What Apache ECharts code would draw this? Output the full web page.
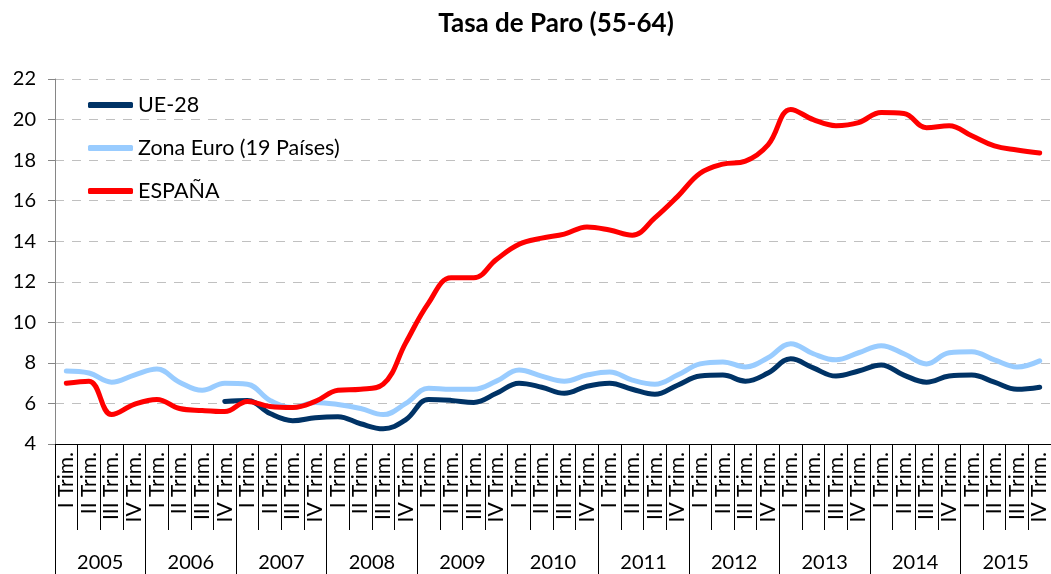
<!DOCTYPE html>
<html>
<head>
<meta charset="utf-8">
<title>Tasa de Paro (55-64)</title>
<script src="https://cdn.jsdelivr.net/npm/echarts@6/dist/echarts.min.js"></script>
<style>
  html, body {
    margin: 0;
    padding: 0;
    background: #fff;
  }
  #chart {
    width: 1051px;
    height: 574px;
  }
</style>
</head>
<body>
<div id="chart"></div>
<script>
// 数据
const years = ['2005', '2006', '2007', '2008', '2009', '2010', '2011', '2012', '2013', '2014', '2015']
const quarterNames = ['I Trim.', 'II Trim.', 'III Trim.', 'IV Trim.']
const yTicks = [4, 22, 2]
const ue28 = [null, null, null, null, null, null, null,
  6.1, 6.15, 5.5, 5.15, 5.3, 5.35, 5.0, 4.75, 5.2, 6.2, 6.15, 6.05, 6.5, 7.0, 6.8, 6.5,
  6.85, 7.0, 6.7, 6.45, 6.9, 7.35, 7.4, 7.1, 7.5, 8.2, 7.75, 7.35, 7.6, 7.9, 7.4, 7.05,
  7.35, 7.4, 7.05, 6.7, 6.8]
const zonaEuro = [7.6, 7.5, 7.05, 7.4, 7.7, 7.05, 6.65, 7.0, 6.95, 6.15, 5.8, 6.05, 5.95,
  5.75, 5.45, 6.0, 6.75, 6.7, 6.7, 7.1, 7.65, 7.35, 7.1, 7.4, 7.55, 7.15, 6.95, 7.4, 7.95,
  8.05, 7.8, 8.25, 8.95, 8.45, 8.15, 8.5, 8.85, 8.45, 7.95, 8.5, 8.55, 8.15, 7.8, 8.1]
const espana = [7.0, 7.1, 5.45, 5.95, 6.2, 5.75, 5.65, 5.6, 6.1, 5.85, 5.8, 6.1, 6.65,
  6.7, 6.95, 9.0, 10.95, 12.2, 12.2, 13.1, 13.85, 14.15, 14.35, 14.7, 14.55, 14.3, 15.15,
  16.2, 17.35, 17.8, 17.95, 18.75, 20.5, 20.0, 19.7, 19.85, 20.35, 20.3, 19.6, 19.7, 19.2,
  18.7, 18.5, 18.35]

// 每个季度一个类目
const quarters = []
years.forEach(function (y) {
  quarterNames.forEach(function (q) {
    quarters.push(q)
  })
})

const font = 'Lato, "Open Sans", sans-serif'
const gridBox = { left: 55, top: 79, width: 1000, bottom: 130 }

function makeSeries (name, data, color) {
  return {
    name: name,
    type: 'line',
    data: data,
    smooth: 0.4,
    symbol: 'none',
    xAxisIndex: 0,
    yAxisIndex: 0,
    lineStyle: { color: color, width: 5, cap: 'round', join: 'round' },
    itemStyle: { color: color }
  }
}

function chartOption () {
  return {
    animation: false,
    title: {
      text: 'Tasa de Paro (55-64)',
      left: 551,
      top: 6,
      textAlign: 'center',
      textStyle: { fontFamily: font, fontSize: 26, fontWeight: 'bold', color: '#000' }
    },
    legend: {
      orient: 'vertical',
      left: 83,
      top: 89,
      itemWidth: 45,
      itemHeight: 6,
      itemGap: 21,
      icon: 'roundRect',
      textStyle: { fontFamily: font, fontSize: 21.5, color: '#000' },
      data: ['UE-28', 'Zona Euro (19 Países)', 'ESPAÑA']
    },
    // 两个重叠的网格：一个画季度，一个画年份
    grid: [
      Object.assign({}, gridBox),
      Object.assign({}, gridBox)
    ],
    xAxis: [
      {
        type: 'category',
        gridIndex: 0,
        data: quarters,
        boundaryGap: true,
        axisLine: { show: true, lineStyle: { color: '#000', width: 1 } },
        axisTick: { show: true, interval: 0, length: 86, lineStyle: { color: '#000' } },
        axisLabel: {
          interval: 0,
          rotate: 90,
          margin: 8,
          hideOverlap: false,
          fontFamily: font,
          fontSize: 21,
          color: '#000'
        },
        splitLine: { show: false }
      },
      {
        type: 'category',
        gridIndex: 1,
        data: years,
        position: 'bottom',
        boundaryGap: true,
        axisLine: { show: false },
        axisTick: { show: true, interval: 0, length: 130, lineStyle: { color: '#000' } },
        axisLabel: {
          interval: 0,
          margin: 109,
          fontFamily: font,
          fontSize: 20,
          color: '#000'
        },
        splitLine: { show: false }
      }
    ],
    yAxis: [
      {
        type: 'value',
        gridIndex: 0,
        min: yTicks[0],
        max: yTicks[1],
        interval: yTicks[2],
        axisLine: { show: true, lineStyle: { color: '#868686' } },
        axisTick: { show: true, length: 7, lineStyle: { color: '#868686' } },
        axisLabel: { margin: 19, fontFamily: font, fontSize: 20, color: '#000' },
        splitLine: {
          show: true,
          lineStyle: { color: '#c0c0c0', type: [9, 8], width: 1 }
        }
      },
      {
        type: 'value',
        gridIndex: 1,
        min: yTicks[0],
        max: yTicks[1],
        show: false
      }
    ],
    series: [
      makeSeries('UE-28', ue28, '#003366'),
      makeSeries('Zona Euro (19 Países)', zonaEuro, '#99ccff'),
      makeSeries('ESPAÑA', espana, '#ff0000')
    ]
  }
}

const chart = echarts.init(document.getElementById('chart'))
chart.setOption(chartOption())
</script>
</body>
</html>
